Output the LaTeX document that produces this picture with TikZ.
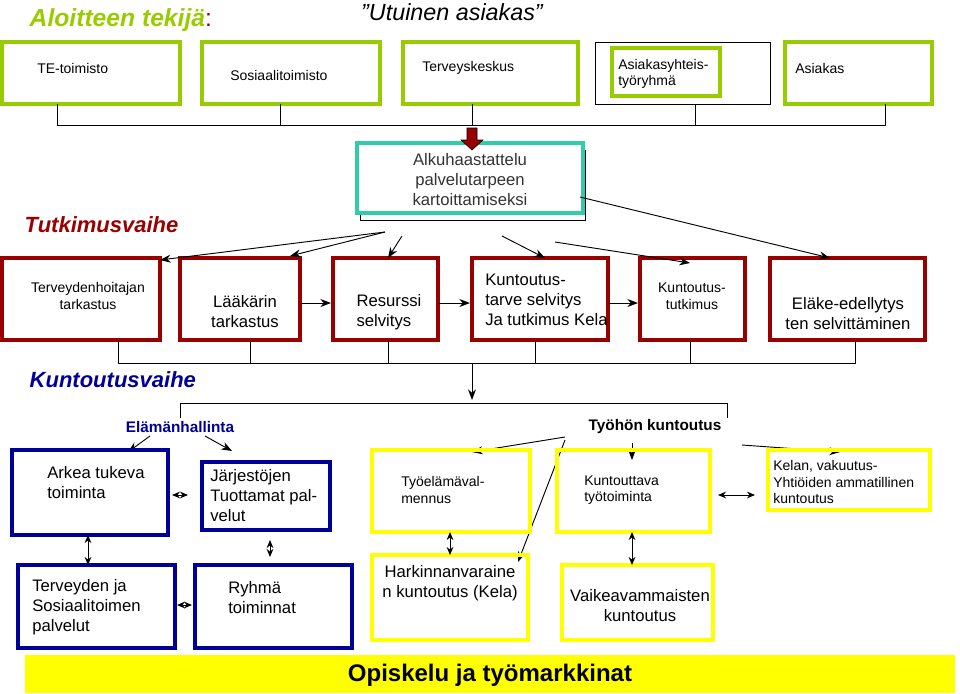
\documentclass[tikz,border=0pt]{standalone}
\usepackage{fontspec}
\setmainfont{Liberation Sans}
\usetikzlibrary{arrows.meta,positioning}
\definecolor{lg}{RGB}{153,204,0}
\definecolor{dr}{RGB}{153,0,0}
\definecolor{db}{RGB}{0,0,153}
\definecolor{yl}{RGB}{255,255,0}
\definecolor{teal}{RGB}{51,204,170}
\tikzset{
 x=0.75pt,y=-0.75pt,
 gbox/.style={draw=lg,line width=2.6pt,inner sep=0pt},
 rbox/.style={draw=dr,line width=2.6pt,inner sep=0pt},
 bbox/.style={draw=db,line width=2.6pt,inner sep=0pt},
 ybox/.style={draw=yl,line width=2.6pt,inner sep=0pt},
 txt/.style={align=left,font=\fontsize{10.5}{12.5}\selectfont,inner sep=0pt},
 ltxt/.style={align=left,font=\fontsize{12.5}{15}\selectfont,inner sep=0pt},
 ctxt/.style={align=center,font=\fontsize{12.5}{15}\selectfont,inner sep=0pt},
 arr/.style={-{Stealth[length=8pt,width=6pt]},line width=0.7pt},
 darr/.style={{Stealth[length=6pt,width=5pt]}-{Stealth[length=6pt,width=5pt]},line width=0.7pt},
 ln/.style={line width=0.6pt},
}
\newcommand{\bx}[6]{\draw[#1] (#2,#3) rectangle (#4,#5); \coordinate (#6) at ({(#2+#4)/2},{(#3+#5)/2});}
\begin{document}
\begin{tikzpicture}
\useasboundingbox (0,0) rectangle (960,693);
% titles
\node[anchor=west,text=lg,font=\fontsize{18.5}{22}\selectfont\bfseries\itshape] (t1) at (25,20) {Aloitteen tekijä\textcolor{dr}{\normalfont\fontsize{18.5}{22}\selectfont:}};
\node[font=\fontsize{17.5}{20}\selectfont\itshape] (t2) at (452,12) {”Utuinen asiakas”};
% top row
\bx{gbox}{2}{42}{180}{104}{te}
\bx{gbox}{202}{42}{380}{104}{so}
\bx{gbox}{403}{42}{578}{104}{tk}
\draw[ln] (595,42) rectangle (770,104);
\bx{gbox}{612}{48}{720}{96}{ay}
\bx{gbox}{785}{42}{932}{104}{as}
\node[txt,anchor=west] at (37,68) {TE-toimisto};
\node[txt,anchor=west] at (230,75) {Sosiaalitoimisto};
\node[txt,anchor=west] at (422,68) {Terveyskeskus};
\node[txt,anchor=west] at (618,74) {Asiakasyhteis-\\työryhmä};
\node[txt,anchor=west] at (795,68) {Asiakas};
% bracket
\draw[ln] (57,104)--(57,125)--(885,125)--(885,104);
\draw[ln] (280,104)--(280,125); \draw[ln] (695,104)--(695,125); \draw[ln] (472,104)--(472,125);
\draw[ln] (360,150) rectangle (585,220);
\draw[draw=teal,line width=2.6pt,fill=white] (357,143) rectangle (583,213);
\coordinate (al) at (470,178);
\fill[dr,draw=black,line width=0.4pt] (467,128)--(477,128)--(477,140)--(483,140)--(472,150)--(461,140)--(467,140)--cycle;
\node[ctxt,text=black!80] at (470,180) {Alkuhaastattelu\\palvelutarpeen\\kartoittamiseksi};
\node[anchor=west,text=dr,font=\fontsize{16.5}{20}\selectfont\bfseries\itshape] at (20,225) {Tutkimusvaihe};
% red row
\bx{rbox}{2}{258}{160}{340}{r1}
\bx{rbox}{180}{258}{300}{340}{r2}
\bx{rbox}{333}{258}{438}{340}{r3}
\bx{rbox}{472}{258}{608}{340}{r4}
\bx{rbox}{640}{258}{745}{340}{r5}
\bx{rbox}{770}{258}{925}{340}{r6}
\node[txt,align=center] at (88,296) {Terveydenhoitajan\\tarkastus};
\node[ltxt,align=center] at (245,312) {Lääkärin\\tarkastus};
\node[ltxt,align=left] at (389,312) {Resurssi\\selvitys};
\node[ltxt,anchor=west] at (485,300) {Kuntoutus-\\tarve selvitys\\Ja tutkimus Kela};
\node[txt,align=center] at (692,296) {Kuntoutus-\\tutkimus};
\node[ltxt,align=center] at (848,314) {Eläke-edellytys\\ten selvittäminen};
\draw[arr] (385,232)--(160,260);
\draw[arr] (385,232)--(290,256);
\draw[arr] (402,236)--(388,258);
\draw[arr] (502,236)--(545,258);
\draw[arr] (555,242)--(690,263);
\draw[arr] (580,197)--(830,258);
\draw[arr] (300,303)--(331,303);
\draw[arr] (438,303)--(470,303);
\draw[arr] (608,303)--(638,303);
% bracket 2
\draw[ln] (118,340)--(118,363)--(855,363)--(855,340);
\foreach \x in {250,388,535,690} \draw[ln] (\x,340)--(\x,363);
\draw[arr] (472,363)--(472,400);
\node[anchor=west,text=db,font=\fontsize{16.5}{20}\selectfont\bfseries\itshape] at (25,380) {Kuntoutusvaihe};
\draw[ln] (180,418)--(180,403)--(727,403)--(727,418);
\node[text=db,font=\fontsize{11.5}{14}\selectfont\bfseries] (el) at (180,427) {Elämänhallinta};
\node[font=\fontsize{11.5}{14}\selectfont\bfseries] (ty) at (655,427) {Työhön kuntoutus};
\draw[arr] (150,436)--(128,452);
\draw[arr] (205,436)--(232,451);
\draw[arr] (565,437)--(472,452);
\draw[arr] (565,440)--(518,562);
\draw[arr] (632,443)--(632,460);
\draw[arr] (742,445)--(840,452);
% blue boxes
\bx{bbox}{12}{450}{168}{535}{b1}
\bx{bbox}{202}{462}{330}{530}{b2}
\bx{bbox}{18}{565}{175}{648}{b3}
\bx{bbox}{195}{565}{352}{648}{b4}
\node[ltxt,anchor=west] at (47,483) {Arkea tukeva\\toiminta};
\node[ltxt,anchor=west] at (210,496) {Järjestöjen\\Tuottamat pal-\\velut};
\node[ltxt,anchor=west] at (32,607) {Terveyden ja\\Sosiaalitoimen\\palvelut};
\node[ltxt,anchor=west] at (228,598) {Ryhmä\\toiminnat};
% yellow boxes
\bx{ybox}{372}{450}{530}{532}{y1}
\bx{ybox}{557}{450}{710}{532}{y2}
\bx{ybox}{768}{450}{930}{510}{y3}
\bx{ybox}{372}{555}{528}{640}{y4}
\bx{ybox}{562}{565}{713}{640}{y5}
\node[txt,anchor=west] at (401,490) {Työelämäval-\\mennus};
\node[txt,anchor=west] at (584,490) {Kuntouttava\\työtoiminta};
\node[txt,anchor=west] at (773,482) {Kelan, vakuutus-\\Yhtiöiden ammatillinen\\kuntoutus};
\node[ltxt,align=center] at (450,583) {Harkinnanvaraine\\n kuntoutus (Kela)};
\node[ltxt,align=center] at (640,606) {Vaikeavammaisten\\kuntoutus};
% double arrows
\draw[darr] (88,535)--(88,565);
\draw[darr] (450,532)--(450,555);
\draw[darr] (632,532)--(632,565);
\draw[darr] (718,495)--(755,495);
\draw[darr] (172,495)--(188,495);
\draw[darr] (270,540)--(270,557);
\draw[darr] (177,605)--(192,605);
% bottom band
\fill[yl] (25,655) rectangle (955,693);
\node[font=\fontsize{18}{21}\selectfont\bfseries] at (490,675) {Opiskelu ja työmarkkinat};
\end{tikzpicture}
\end{document}
